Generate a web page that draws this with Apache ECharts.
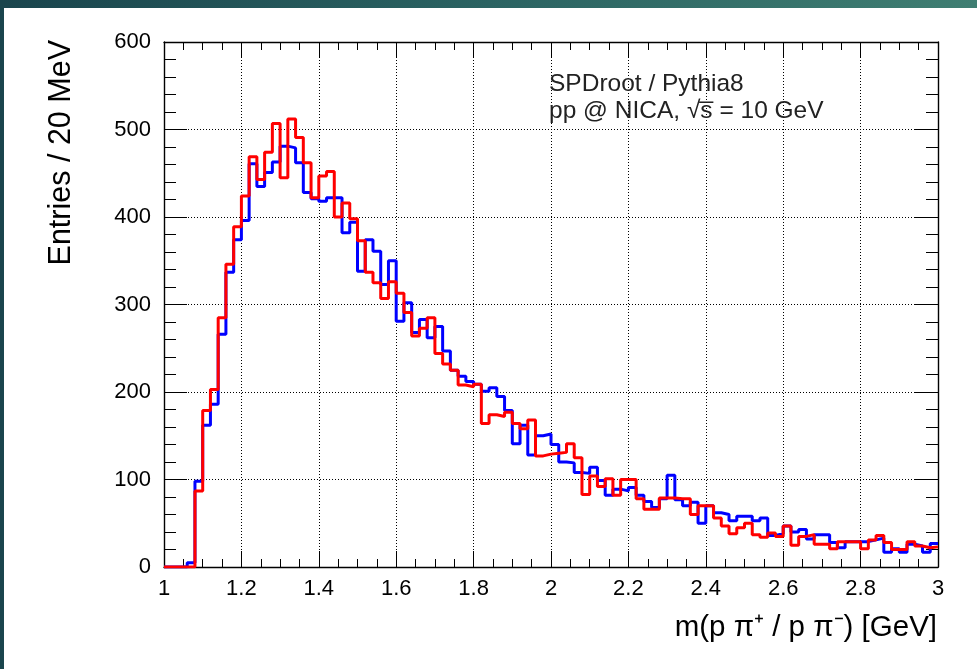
<!DOCTYPE html>
<html><head><meta charset="utf-8">
<script src="https://cdn.jsdelivr.net/npm/echarts@6/dist/echarts.min.js"></script>
<style>
html,body{margin:0;padding:0;width:977px;height:669px;overflow:hidden;
background:linear-gradient(90deg,#1a454d 0%,#2b6362 50%,#3f7e72 100%);}
#panel{position:absolute;left:4px;top:8px;right:0;bottom:0;background:#fff;}
#chart{position:absolute;left:0;top:0;width:977px;height:669px;}
</style></head><body><div id="panel"></div><div id="chart"></div>
<script>
// Histogram: 100 bins of 20 MeV from 1.0 to 3.0 GeV
const xMin = 1.0, xMax = 3.0, binWidth = 0.02;
const blueCounts = [0,0,0,5,98,162,186,266,337,374, 396,461,435,451,463,481,479,462,428,421,
  418,422,422,382,394,338,374,361,323,350, 281,302,268,283,262,275,247,225,218,212,
  209,201,205,195,179,141,162,128,150,152, 140,120,119,108,107,114,99,82,89,87,
  91,82,75,68,78,105,77,70,74,50, 70,62,60,53,58,58,53,56,36,38,
  47,40,43,32,37,37,28,22,29,29, 29,31,33,17,21,17,26,24,17,27];
const redCounts = [0,0,0,0,87,179,203,285,346,389, 424,469,443,474,507,445,512,491,462,422,
  447,452,400,416,398,373,337,325,307,326, 313,291,264,273,285,244,232,225,208,206,
  209,164,174,172,177,164,158,168,127,129, 130,131,141,125,83,104,92,101,82,100,
  100,78,66,66,79,79,78,78,60,70, 70,56,47,38,45,50,37,34,39,35,
  47,25,35,37,26,26,21,29,29,29, 21,31,36,28,20,20,29,24,22,23];
const xTickLabels = ['1','1.2','1.4','1.6','1.8','2','2.2','2.4','2.6','2.8','3'];
const yTickLabels = ['0','100','200','300','400','500','600'];
const xTitle = 'm(p \u03c0\u207a / p \u03c0\u207b) [GeV]';
const yTitle = 'Entries / 20 MeV';
const note1 = 'SPDroot / Pythia8';
const note2 = 'pp @ NICA, \u221as\u0305 = 10 GeV';

function stepData(vals){
  const d = vals.map((v,i)=>[+(xMin + i*binWidth).toFixed(3), v]);
  d.push([xMax, vals[vals.length-1]]);
  return d;
}
const FONT = 'Liberation Sans, Arial, Helvetica, sans-serif';
const chart = echarts.init(document.getElementById('chart'), null, {renderer:'canvas'});
const tickStyle = {color:'#000', width:1};
function xAx(pos, labels){
  return {type:'value', min:xMin, max:xMax, interval:0.2, position:pos,
    axisLine:{show:true, onZero:false, lineStyle:{color:'#000', width:1.4}},
    axisTick:{show:true, inside:true, length:16, lineStyle:tickStyle},
    minorTick:{show:true, splitNumber:4, length:8, lineStyle:tickStyle},
    splitLine:{show:labels, lineStyle:{color:'#000', width:1, type:[1,2]}},
    axisLabel:{show:labels, margin:11, color:'#000', fontSize:22, fontFamily:FONT,
      formatter:(v)=>xTickLabels[Math.round((v-xMin)/0.2)]}};
}
function yAx(pos, labels){
  return {type:'value', min:0, max:600, interval:100, position:pos,
    axisLine:{show:true, onZero:false, lineStyle:{color:'#000', width:1.4}},
    axisTick:{show:true, inside:true, length:23, lineStyle:tickStyle},
    minorTick:{show:true, splitNumber:5, length:12, lineStyle:tickStyle},
    splitLine:{show:labels, lineStyle:{color:'#000', width:1, type:[1,2]}},
    axisLabel:{show:labels, margin:13, color:'#000', fontSize:22, fontFamily:FONT,
      formatter:(v)=>yTickLabels[Math.round(v/100)]}};
}
chart.setOption({
  animation:false,
  backgroundColor:'transparent',
  grid:{left:164, right:39, top:42, bottom:102, containLabel:false},
  xAxis:[xAx('bottom', true), xAx('top', false)],
  yAxis:[yAx('left', true), yAx('right', false)],
  series:[
    {type:'line', step:'end', data:stepData(blueCounts), xAxisIndex:0, yAxisIndex:0,
      symbol:'none', lineStyle:{color:'#0000ff', width:3}, z:3, clip:true},
    {type:'line', step:'end', data:stepData(redCounts), xAxisIndex:0, yAxisIndex:0,
      symbol:'none', lineStyle:{color:'#ff0000', width:3}, z:4, clip:true}
  ],
  graphic:[
    {type:'text', x:62, y:40, rotation:Math.PI/2, z:10,
      style:{text:yTitle, fontSize:30.5, fontFamily:FONT, fill:'#000', align:'right', verticalAlign:'middle'}},
    {type:'text', x:937, y:628, z:10,
      style:{text:xTitle, fontSize:29.5, fontFamily:FONT, fill:'#000', align:'right', verticalAlign:'middle'}},
    {type:'text', x:549, y:84, z:10,
      style:{text:note1, fontSize:24.5, fontFamily:FONT, fill:'#222', align:'left', verticalAlign:'middle'}},
    {type:'text', x:549, y:111, z:10,
      style:{text:note2, fontSize:24.5, fontFamily:FONT, fill:'#222', align:'left', verticalAlign:'middle'}}
  ]
});
</script></body></html>
